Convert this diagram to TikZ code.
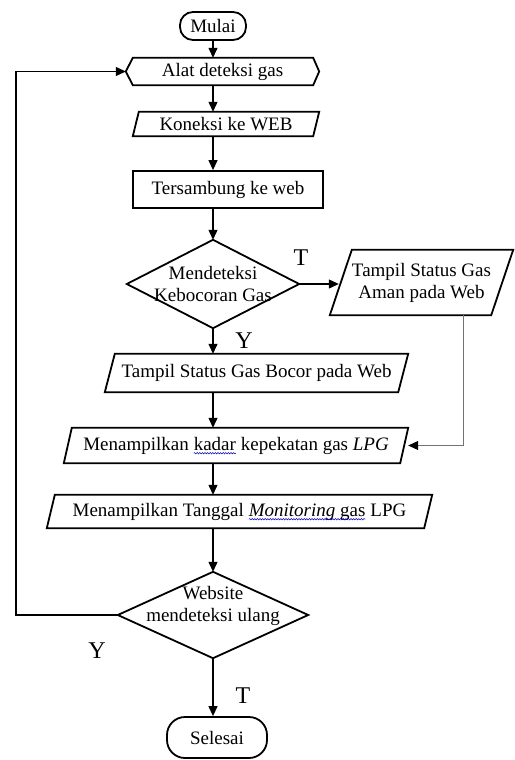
\documentclass[tikz,border=0pt]{standalone}
\usepackage{fontspec}
\setmainfont{Liberation Serif}
\usetikzlibrary{arrows.meta,decorations.pathmorphing}
% blue wavy underline, as a spell checker marks words
\newcommand\bluwave[1]{\tikz[baseline=(w.base)]{%
  \node[inner sep=0pt, outer sep=0pt, minimum width=0pt, minimum height=0pt, draw=none] (w) {#1};
  \draw[draw=blue!75!black, line width=0.5pt, decorate,
        decoration={snake, amplitude=0.7pt, segment length=2.6pt}]
    ([yshift=-3.2pt]w.base west) -- ([yshift=-3.2pt]w.base east);}}

\begin{document}
\begin{tikzpicture}[x=1pt,y=-1pt,
  lbl/.style={font=\fontsize{19}{22}\selectfont, align=center, inner sep=0pt},
  tag/.style={font=\fontsize{24}{26}\selectfont, inner sep=0pt},
  outl/.style={line width=1.8pt, line join=miter},
  conn/.style={line width=1.2pt, -{Triangle[length=10pt,width=9pt]}},
  feed/.style={line width=1pt, draw=black!55, -{Triangle[length=10pt,width=9pt,color=black]}}
]
\useasboundingbox (0,0) rectangle (514,760);

% boxes and their texts
\node[lbl, draw, outl, rounded corners=13, minimum width=66, minimum height=28] (mulai) at (213,26) {Mulai};
\node[lbl, minimum width=193, minimum height=27] (alat) at (222.5,71.5) {Alat deteksi gas};
\node[lbl, minimum width=186, minimum height=24] (kon) at (226,124) {Koneksi ke WEB};
\node[lbl, draw, outl, minimum width=190, minimum height=37] (ters) at (228,189.5) {Tersambung ke web};
\node[lbl, minimum width=172, minimum height=88] (d1) at (213,284) {Mendeteksi\\Kebocoran Gas};
\node[lbl, minimum width=183, minimum height=65] (aman) at (421.5,282.5) {Tampil Status Gas\\Aman pada Web};
\node[lbl, minimum width=303, minimum height=38] (bocor) at (256.5,373) {Tampil Status Gas Bocor pada Web};
\node[lbl, minimum width=344, minimum height=35] (lpg) at (236,445.5) {Menampilkan \bluwave{kadar} kepekatan gas \textit{LPG}};
\node[lbl, minimum width=385, minimum height=33] (tang) at (239.5,511.5) {Menampilkan Tanggal \bluwave{\textit{Monitoring} gas} LPG};
\node[lbl, minimum width=190, minimum height=86] (d2) at (213,615) {};
\node[lbl] (d2text) at (213,606) {Website\\mendeteksi ulang};
\node[lbl, draw, outl, rounded corners=18, minimum width=100, minimum height=41] (sel) at (217,737.5) {Selesai};

% outlines of the non-rectangular shapes
\draw[outl] (alat.west) -- ([xshift=7]alat.north west) -- ([xshift=-6]alat.north east)
  -- (alat.east) -- ([xshift=-6]alat.south east) -- ([xshift=7]alat.south west) -- cycle;
\foreach \n/\s in {kon/6, aman/22, bocor/10, lpg/8, tang/8}
  \draw[outl] ([xshift=\s]\n.north west) -- (\n.north east)
    -- ([xshift=-\s]\n.south east) -- (\n.south west) -- cycle;
\foreach \n in {d1,d2}
  \draw[outl] (\n.north) -- (\n.east) -- (\n.south) -- (\n.west) -- cycle;

% branch labels
\node[tag] (t1) at (301,258) {T};
\node[tag] (y1) at (244,341) {Y};
\node[tag] (y2) at (97,651) {Y};
\node[tag] (t2) at (243,696) {T};

% main flow
\draw[conn] (mulai.south) -- (mulai.south |- alat.north);
\draw[conn] (alat.south -| mulai.south) -- (kon.north -| mulai.south);
\draw[conn] (kon.south -| mulai.south) -- (ters.north -| mulai.south);
\draw[conn] (ters.south -| mulai.south) -- (d1.north);
\draw[conn] (d1.south) -- (bocor.north -| d1.south);
\draw[conn] (bocor.south -| d1.south) -- (lpg.north -| d1.south);
\draw[conn] (lpg.south -| d1.south) -- (tang.north -| d1.south);
\draw[conn] (tang.south -| d1.south) -- (d2.north);
\draw[conn] (d2.south) -- (d2.south |- sel.north);

% side branch and loop back
\draw[conn] (d1.east) -- ([xshift=9]d1.east -| aman.west);
\draw[feed] ([xshift=41.5]aman.south) |- (lpg.east);
\coordinate (loop) at (16,0);
\draw[conn] (d2.west) -- (d2.west -| loop) |- (alat.west);
\end{tikzpicture}
\end{document}
